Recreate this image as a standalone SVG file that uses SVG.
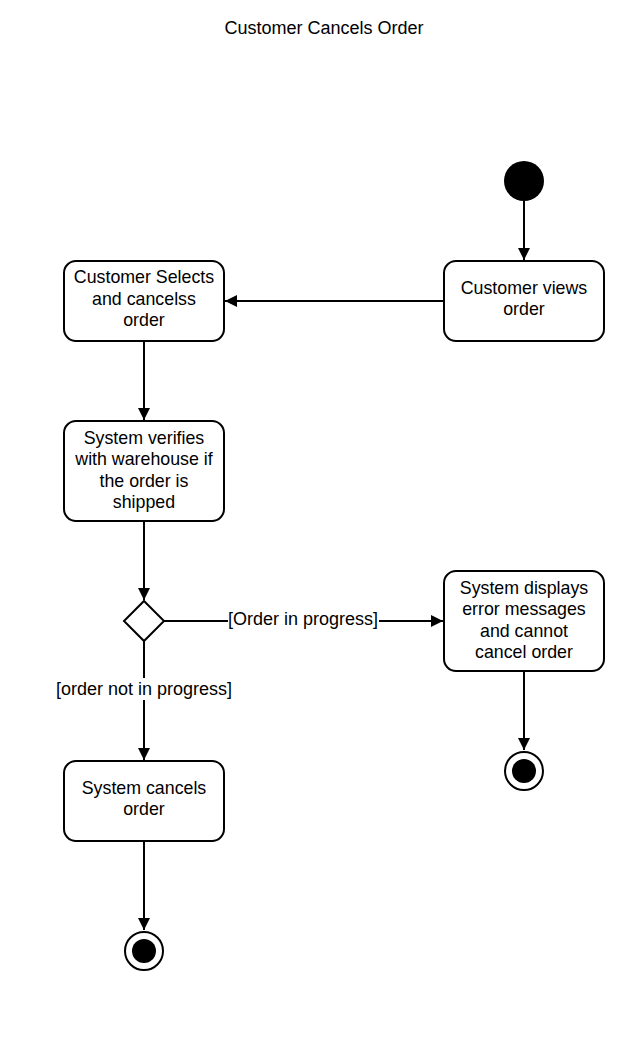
<svg xmlns="http://www.w3.org/2000/svg" width="644" height="1038" viewBox="0 0 644 1038">
<style>
.box{fill:#fff;stroke:#000;stroke-width:2}
.t{font-family:"Liberation Sans",Arial,sans-serif;font-size:17.8px;fill:#000;text-anchor:middle}
.c{stroke:#000;stroke-width:2;fill:none}
.lbl{font-family:"Liberation Sans",Arial,sans-serif;font-size:18px;fill:#000;text-anchor:middle}
</style>
<defs>
<marker id="ah" markerWidth="12" markerHeight="12" viewBox="0 0 12 12" refX="12" refY="6" orient="auto" markerUnits="userSpaceOnUse">
<path d="M0,0 L12,6 L0,12 Z" fill="#000"/>
</marker>
</defs>
<rect width="644" height="1038" fill="#fff"/>
<text class="lbl" x="324" y="34">Customer Cancels Order</text>
<g id="connectors">
<line class="c" x1="524" y1="201" x2="524" y2="260" marker-end="url(#ah)"/>
<line class="c" x1="444" y1="301" x2="225" y2="301" marker-end="url(#ah)"/>
<line class="c" x1="144" y1="341" x2="144" y2="420" marker-end="url(#ah)"/>
<line class="c" x1="144" y1="521" x2="144" y2="600" marker-end="url(#ah)"/>
<line class="c" x1="164" y1="621" x2="443" y2="621" marker-end="url(#ah)"/>
<rect x="228" y="608" width="151" height="22" fill="#fff"/>
<text class="lbl" x="303" y="625">[Order in progress]</text>
<line class="c" x1="144" y1="641" x2="144" y2="760" marker-end="url(#ah)"/>
<rect x="55" y="678" width="178" height="22" fill="#fff"/>
<text class="lbl" x="144" y="695">[order not in progress]</text>
<line class="c" x1="524" y1="671" x2="524" y2="750" marker-end="url(#ah)"/>
<line class="c" x1="144" y1="841" x2="144" y2="930" marker-end="url(#ah)"/>
</g>
<g id="start"><circle cx="524" cy="181" r="20" fill="#000"/></g>
<g id="views">
<rect class="box" x="444" y="261" width="160" height="80" rx="12"/>
<text class="t" x="524" y="294">Customer views</text>
<text class="t" x="524" y="315">order</text>
</g>
<g id="selects">
<rect class="box" x="64" y="261" width="160" height="80" rx="12"/>
<text class="t" x="144" y="283">Customer Selects</text>
<text class="t" x="144" y="305">and cancelss</text>
<text class="t" x="144" y="326">order</text>
</g>
<g id="verifies">
<rect class="box" x="64" y="421" width="160" height="100" rx="12"/>
<text class="t" x="144" y="444">System verifies</text>
<text class="t" x="144" y="465">with warehouse if</text>
<text class="t" x="144" y="487">the order is</text>
<text class="t" x="144" y="508">shipped</text>
</g>
<g id="decision"><path d="M144,601 L164,621 L144,641 L124,621 Z" class="box"/></g>
<g id="displays">
<rect class="box" x="444" y="571" width="160" height="100" rx="12"/>
<text class="t" x="524" y="594">System displays</text>
<text class="t" x="524" y="615">error messages</text>
<text class="t" x="524" y="637">and cannot</text>
<text class="t" x="524" y="658">cancel order</text>
</g>
<g id="cancels">
<rect class="box" x="64" y="761" width="160" height="80" rx="12"/>
<text class="t" x="144" y="794">System cancels</text>
<text class="t" x="144" y="815">order</text>
</g>
<g id="end1"><circle cx="524" cy="771" r="19" fill="#fff" stroke="#000" stroke-width="2"/><circle cx="524" cy="771" r="12" fill="#000"/></g>
<g id="end2"><circle cx="144" cy="951" r="19" fill="#fff" stroke="#000" stroke-width="2"/><circle cx="144" cy="951" r="12" fill="#000"/></g>
</svg>
